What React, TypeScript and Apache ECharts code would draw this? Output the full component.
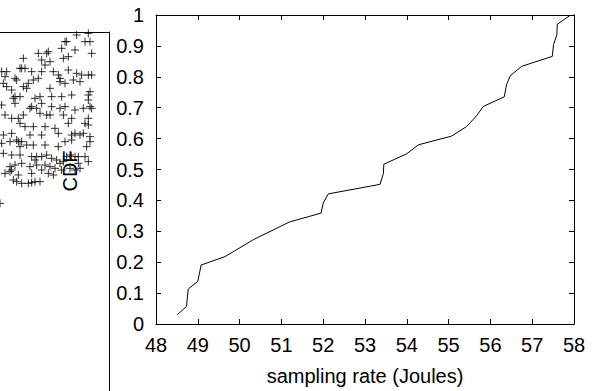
import React, { useEffect, useRef } from "react";
import * as echarts from "echarts";

const cdfX = [48.51, 48.73, 48.77, 49.0, 49.08, 49.65, 50.33, 51.19, 51.95, 52.0, 52.12, 52.4, 53.36, 53.44, 53.45, 54.0, 54.28, 55.07, 55.43, 55.67, 55.83, 56.33, 56.39, 56.48, 56.75, 57.48, 57.51, 57.59, 57.6, 57.9, 58.0];
const cdfY = [0.03, 0.057, 0.113, 0.138, 0.191, 0.218, 0.273, 0.33, 0.359, 0.391, 0.421, 0.428, 0.452, 0.487, 0.517, 0.551, 0.58, 0.608, 0.639, 0.674, 0.704, 0.735, 0.776, 0.804, 0.834, 0.866, 0.904, 0.936, 0.97, 0.998, 1.0];

const xTicks = [48, 49, 50, 51, 52, 53, 54, 55, 56, 57, 58];
const yTicks = [0, 0.1, 0.2, 0.3, 0.4, 0.5, 0.6, 0.7, 0.8, 0.9, 1];

// Partial neighbouring scatter panel (arbitrary units)
const scatterX = [230,265,270,255,275,195,200,225,185,190,205,145,140,115,150,125,135,70,60,65,20,5,15,45,50,75,95,115,125,160,175,180,205,230,245,265,275,240,220,180,195,150,100,85,70,80,10,20,35,45,40,60,105,120,155,185,215,270,265,265,270,275,250,225,195,155,125,90,95,110,45,5,15,35,55,70,120,140,150,180,190,215,265,255,265,205,165,135,100,75,60,35,10,50,55,65,90,125,175,215,225,240,250,270,270,260,215,195,175,135,100,80,60,30,5,10,35,60,110,95,105,125,140,155,170,200,210,225,235,255,265,235,190,180,165,150,135,110,90,65,45,30,30,35,15,55,95,125,145,160,185,210,225,240,40,50,65,85,95,105,120,0];
const scatterY = [105,100,125,125,160,125,125,150,145,175,170,155,160,160,185,180,195,175,205,205,215,215,230,235,240,205,215,235,215,215,225,235,210,220,225,225,225,245,240,245,250,265,240,250,260,265,250,260,270,290,295,290,295,290,290,290,285,275,285,300,320,325,325,330,320,320,310,325,320,325,310,315,345,355,355,345,340,345,345,325,345,355,355,370,375,370,385,380,380,380,370,400,405,420,425,425,405,405,400,405,400,405,400,410,425,440,420,425,440,435,435,435,440,425,430,460,465,465,470,470,480,470,465,475,480,470,465,470,470,470,485,490,485,490,505,500,495,495,500,490,495,500,515,510,520,525,520,510,520,525,510,505,510,505,540,545,550,550,548,545,545,610];

const FONT = "Liberation Sans";

export default function App() {
  const ref = useRef<HTMLDivElement>(null);
  useEffect(() => {
    if (!ref.current) return;
    const chart = echarts.init(ref.current, null, { renderer: "svg" });
    const black = "#000";
    const lineData = cdfX.map((x, i) => [x, cdfY[i]]);
    const scatterData = scatterX.map((x, i) => [x, scatterY[i]]);
    const tickStyle = { inside: true, length: 5, lineStyle: { color: black, width: 1 } };
    const axisLine = { show: true, onZero: false, lineStyle: { color: black, width: 1 } };
    chart.setOption({
      animation: false,
      backgroundColor: "#fff",
      grid: [
        { left: 156, right: 21, top: 15, bottom: 64 },
        { left: 0, top: 32, width: 109, height: 359 },
      ],
      xAxis: [
        {
          gridIndex: 0, type: "value", min: xTicks[0], max: xTicks[xTicks.length - 1], interval: 1,
          position: "bottom", axisLine, axisTick: tickStyle, splitLine: { show: false },
          axisLabel: { color: black, fontSize: 20, fontFamily: FONT, margin: 11 },
          name: "sampling rate (Joules)", nameLocation: "middle", nameGap: 42,
          nameTextStyle: { color: black, fontSize: 20, fontFamily: FONT },
        },
        {
          gridIndex: 0, type: "value", min: xTicks[0], max: xTicks[xTicks.length - 1], interval: 1,
          position: "top", axisLine, axisTick: tickStyle, splitLine: { show: false },
          axisLabel: { show: false },
        },
        {
          gridIndex: 1, type: "value", min: 0, max: 327, position: "top",
          axisLine, axisTick: { show: false }, axisLabel: { show: false }, splitLine: { show: false },
        },
      ],
      yAxis: [
        {
          gridIndex: 0, type: "value", min: yTicks[0], max: yTicks[yTicks.length - 1], interval: 0.1,
          position: "left", axisLine, axisTick: tickStyle, splitLine: { show: false },
          axisLabel: { color: black, fontSize: 20, fontFamily: FONT, margin: 12 },
        },
        {
          gridIndex: 0, type: "value", min: yTicks[0], max: yTicks[yTicks.length - 1], interval: 0.1,
          position: "right", axisLine, axisTick: tickStyle, splitLine: { show: false },
          axisLabel: { show: false },
        },
        {
          gridIndex: 1, type: "value", min: 96, max: 1173, inverse: true, position: "right",
          axisLine, axisTick: { show: false }, axisLabel: { show: false }, splitLine: { show: false },
        },
      ],
      graphic: [
        {
          type: "text", x: 70, y: 171, rotation: Math.PI / 2, z: 10,
          style: { text: "CDF", font: `20px "${FONT}"`, fill: black, align: "center", verticalAlign: "middle" },
        },
      ],
      series: [
        {
          type: "line", xAxisIndex: 0, yAxisIndex: 0, data: lineData, showSymbol: false,
          lineStyle: { color: black, width: 1 }, silent: true,
        },
        {
          type: "scatter", xAxisIndex: 2, yAxisIndex: 2, data: scatterData, clip: false,
          symbol: "path://M5,0L5,10M0,5L10,5", symbolSize: 8,
          itemStyle: { color: "none", borderColor: "#000", borderWidth: 1 }, silent: true,
        },
      ],
    });
    return () => chart.dispose();
  }, []);
  return (
    <div
      ref={ref}
      style={{ position: "fixed", left: 0, top: 0, width: 595, height: 391, background: "#fff" }}
    />
  );
}
